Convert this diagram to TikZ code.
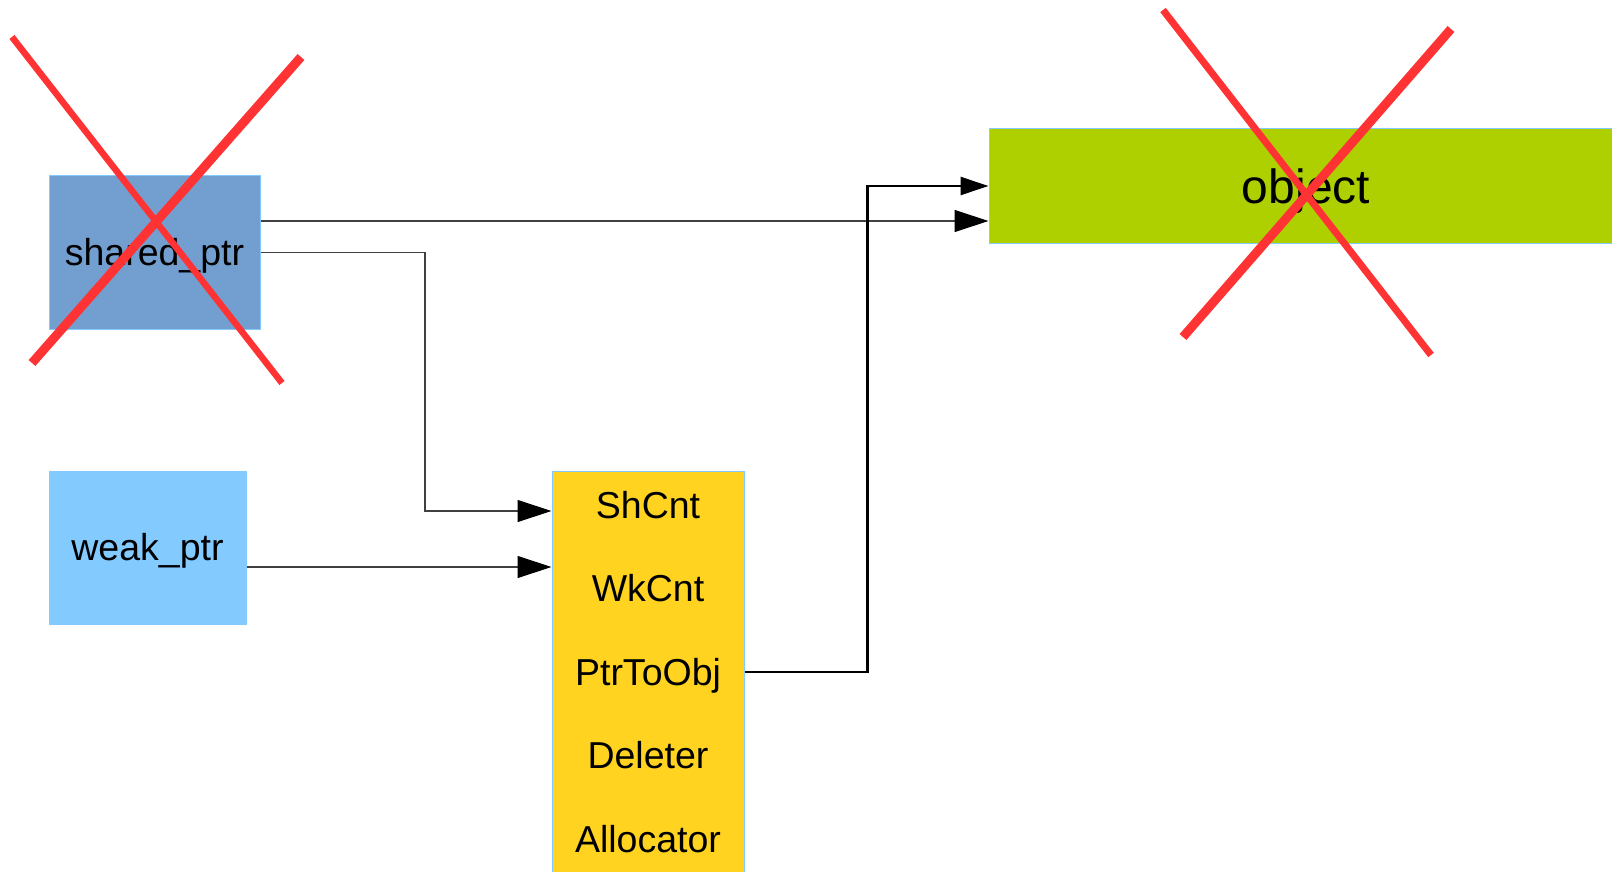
\documentclass[tikz,border=0pt]{standalone}
\usepackage{fontspec}
\setmainfont{Liberation Sans}
\usetikzlibrary{arrows.meta}
\definecolor{spblue}{HTML}{729FCF}
\definecolor{wpblue}{HTML}{83CAFF}
\definecolor{cbyellow}{HTML}{FFD320}
\definecolor{objgreen}{HTML}{AECF00}
\definecolor{crossred}{HTML}{FF3333}

\tikzset{
  box/.style={draw=wpblue, line width=0.5pt, inner sep=0pt, text height=17pt, text depth=4pt, font=\fontsize{18.75}{22}\selectfont},
  field/.style={anchor=base, inner sep=0pt, font=\fontsize{18.75}{22}\selectfont},
  link/.style={draw=black!75, line width=0.6pt, -{Triangle[length=17pt,width=11pt,color=black]}},
  thicklink/.style={draw=black, line width=1.25pt, -{Triangle[length=14pt,width=9pt]}},
  cross/.style={draw=crossred},
}

\begin{document}
\begin{tikzpicture}[x=0.5pt, y=-0.5pt]
  \useasboundingbox (0,0) rectangle (1612,872);
  % boxes
  \node[box, fill=spblue, minimum width=105.5pt, minimum height=76.5pt] (sp) at (154.5,252.5) {shared\_ptr};
  \node[box, fill=wpblue, minimum width=98.5pt, minimum height=76.5pt] (wp) at (147.5,547.5) {weak\_ptr};
  \node[box, fill=cbyellow, minimum width=96pt, minimum height=215pt] (ctrl) at (648,686) {};
  \node[box, fill=objgreen, minimum width=317pt, minimum height=57.5pt, text height=21.5pt, text depth=4.5pt, font=\fontsize{24}{28}\selectfont] (obj) at (1306,186) {object};
  \foreach \nm/\txt [count=\k from 0] in {sh/ShCnt, wk/WkCnt, ptr/PtrToObj, del/Deleter, alloc/Allocator}
    \node[field] (\nm) at (648,{518+83.5*\k}) {\txt};
  % connectors
  \draw[link] (sp.east |- 0,221) -- (obj.west |- 0,221);
  \draw[link] (sp.east) -| (425,511) -- (ctrl.west |- 0,511);
  \draw[link] (wp.east |- 0,567) -- (ctrl.west |- 0,567);
  \draw[thicklink] (ctrl.east |- 0,672) -- ++(123,0) |- (obj.west);
  % crossed out
  \draw[cross, line width=3.25pt] (12,37) -- (282,383);
  \draw[cross, line width=4.5pt] (32,363) -- (301,57);
  \draw[cross, line width=3.5pt] (1163,10) -- (1431,355);
  \draw[cross, line width=4.5pt] (1183,337) -- (1451,29);
\end{tikzpicture}
\end{document}
